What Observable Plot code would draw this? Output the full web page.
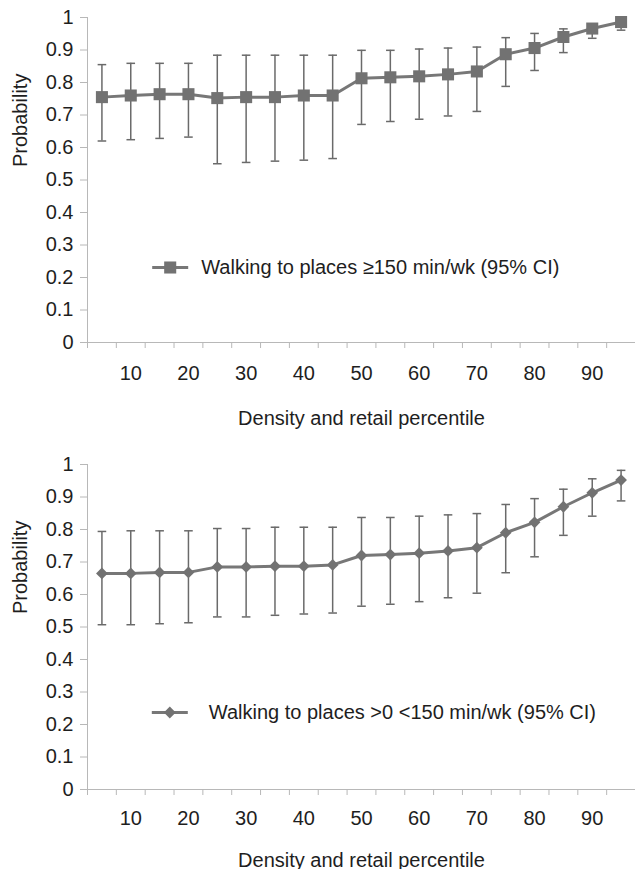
<!DOCTYPE html>
<html>
<head>
<meta charset="utf-8">
<script src="https://cdn.jsdelivr.net/npm/d3@7"></script>
<script src="https://cdn.jsdelivr.net/npm/@observablehq/plot@0.6"></script>
<style>
  body { margin: 0; background: #fff; }
  #chart svg { display: block; }
</style>
</head>
<body>
<div id="chart"></div>
<script>
// Categories (density and retail percentile)
const percentiles = [5, 10, 15, 20, 25, 30, 35, 40, 45, 50, 55, 60, 65, 70, 75, 80, 85, 90, 95];
const xTickLabels = [10, 20, 30, 40, 50, 60, 70, 80, 90];
const yTickValues = [0, 0.1, 0.2, 0.3, 0.4, 0.5, 0.6, 0.7, 0.8, 0.9, 1];

// Panel 1: walking to places >=150 min/wk
const walk150 = [0.755, 0.760, 0.764, 0.764, 0.752, 0.755, 0.755, 0.760, 0.760, 0.813, 0.816, 0.819, 0.825, 0.834, 0.887, 0.906, 0.940, 0.966, 0.986];
const walk150Hi = [0.855, 0.859, 0.859, 0.859, 0.884, 0.884, 0.884, 0.884, 0.884, 0.899, 0.899, 0.903, 0.906, 0.909, 0.938, 0.951, 0.965, 0.979, 0.990];
const walk150Lo = [0.620, 0.624, 0.628, 0.632, 0.550, 0.554, 0.558, 0.561, 0.566, 0.671, 0.680, 0.687, 0.697, 0.711, 0.788, 0.837, 0.892, 0.936, 0.961];

// Panel 2: walking to places >0 <150 min/wk
const walkSome = [0.665, 0.665, 0.668, 0.668, 0.685, 0.685, 0.687, 0.687, 0.691, 0.720, 0.723, 0.727, 0.734, 0.744, 0.790, 0.822, 0.870, 0.913, 0.952];
const walkSomeHi = [0.794, 0.796, 0.796, 0.796, 0.803, 0.803, 0.807, 0.807, 0.807, 0.837, 0.837, 0.841, 0.845, 0.849, 0.877, 0.895, 0.924, 0.956, 0.982];
const walkSomeLo = [0.507, 0.507, 0.510, 0.513, 0.531, 0.531, 0.536, 0.540, 0.543, 0.564, 0.570, 0.578, 0.590, 0.604, 0.667, 0.716, 0.782, 0.841, 0.888];

const legend1 = "Walking to places ≥150 min/wk (95% CI)";
const legend2 = "Walking to places >0 <150 min/wk (95% CI)";
const xTitle = "Density and retail percentile";
const yTitle = "Probability";

// Horizontal line symbol (for error-bar caps and legend line)
const hline = {
  draw(ctx, size) {
    const r = Math.sqrt(size / Math.PI);
    ctx.moveTo(-r, 0);
    ctx.lineTo(r, 0);
  }
};

const step = percentiles[1] - percentiles[0];
const xDomain = [percentiles[0] - step / 2, percentiles[percentiles.length - 1] + step / 2];
const boundaries = percentiles.map(p => p - step / 2).concat([xDomain[1]]);

const FONT = "'Liberation Sans', Arial, Helvetica, sans-serif";
const AXIS = "#b8b8b8";
const TEXT = "#1e1e1e";
const MARK = "#727272";
const LINE = "#777777";
const ERR = "#6a6a6a";

function panel({values, hi, lo, symbol, r, legend, height, marginTop, marginBottom, labelPad, titleDy, legendDy, legendDotDx, legendTextDx}) {
  const data = percentiles.map((p, i) => ({p, v: values[i], hi: hi[i], lo: lo[i]}));
  return Plot.plot({
    width: 635,
    height,
    marginLeft: 87,
    marginRight: 0,
    marginTop,
    marginBottom,
    style: {fontFamily: FONT, fontSize: "20px", color: TEXT, background: "#fff", overflow: "visible"},
    x: {domain: xDomain, axis: null},
    y: {domain: [0, 1], axis: null},
    marks: [
      Plot.ruleX([xDomain[0]], {stroke: AXIS, strokeWidth: 1}),
      Plot.ruleY([0], {stroke: AXIS, strokeWidth: 1}),
      Plot.axisY({ticks: yTickValues, tickSize: 7, tickPadding: 7, stroke: AXIS, fill: TEXT, fontSize: 20,
        tickFormat: d => String(+d.toFixed(1)), label: null}),
      Plot.axisX({ticks: boundaries, tickSize: 6, stroke: AXIS, tickFormat: () => "", label: null}),
      Plot.axisX({ticks: xTickLabels, tickSize: 0, tickPadding: labelPad, fill: TEXT, fontSize: 20, label: null}),
      // error bars
      Plot.ruleX(data, {x: "p", y1: "lo", y2: "hi", stroke: ERR, strokeWidth: 1.5}),
      Plot.dot(data, {x: "p", y: "hi", symbol: hline, r: 4.3, fill: "none", stroke: ERR, strokeWidth: 1.5}),
      Plot.dot(data, {x: "p", y: "lo", symbol: hline, r: 4.3, fill: "none", stroke: ERR, strokeWidth: 1.5}),
      // series
      Plot.line(data, {x: "p", y: "v", stroke: LINE, strokeWidth: 3}),
      Plot.dot(data, {x: "p", y: "v", symbol, r, fill: MARK, stroke: "none"}),
      // legend
      Plot.dot([legend], {x: null, y: null, frameAnchor: "top-left", dx: legendDotDx, dy: legendDy,
        symbol: hline, r: 18, fill: "none", stroke: LINE, strokeWidth: 3}),
      Plot.dot([legend], {x: null, y: null, frameAnchor: "top-left", dx: legendDotDx, dy: legendDy,
        symbol, r, fill: MARK, stroke: "none"}),
      Plot.text([legend], {frameAnchor: "top-left", dx: legendTextDx, dy: legendDy, text: d => d,
        textAnchor: "start", lineAnchor: "middle", fontSize: 20, fill: TEXT}),
      // axis titles
      Plot.text([xTitle], {frameAnchor: "bottom", dy: titleDy, text: d => d, lineAnchor: "top", fontSize: 20, fill: TEXT}),
      Plot.text([yTitle], {frameAnchor: "left", dx: -67, dy: -13, rotate: -90, text: d => d, fontSize: 20, fill: TEXT})
    ]
  });
}

const root = document.getElementById("chart");
root.append(panel({
  values: walk150, hi: walk150Hi, lo: walk150Lo, symbol: "square", r: 6.8, legend: legend1,
  height: 446, marginTop: 17, marginBottom: 104, labelPad: 23, titleDy: 68,
  legendDy: 250, legendDotDx: 82.7, legendTextDx: 113.7
}));
root.append(panel({
  values: walkSome, hi: walkSomeHi, lo: walkSomeLo, symbol: "diamond2", r: 5.3, legend: legend2,
  height: 423, marginTop: 18, marginBottom: 80, labelPad: 21, titleDy: 63,
  legendDy: 248, legendDotDx: 82.3, legendTextDx: 121.3
}));
</script>
</body>
</html>
